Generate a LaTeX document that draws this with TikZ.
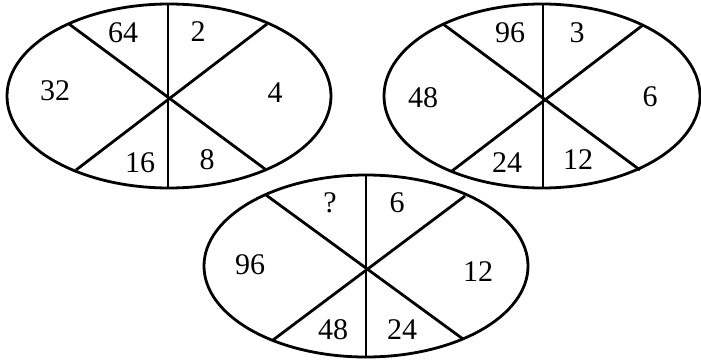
\documentclass[tikz,border=0pt]{standalone}
\usepackage{fontspec}
\setmainfont{Liberation Serif}
\begin{document}
\begin{tikzpicture}[x=1pt,y=-1pt,line width=2.8pt,every node/.style={font=\fontsize{30}{30}\selectfont,inner sep=0pt}]
\useasboundingbox (0,0) rectangle (701,361);
% left ellipse
\draw (169,96) ellipse [x radius=162,y radius=92];\draw (168,4)--(168,188);\draw (69,24)--(265,169);\draw (267,24)--(76,170);
\node (la) at (123,33){64};\node (lb) at (198,32){2};\node (lc) at (55,91){32};\node (ld) at (275,93){4};\node (le) at (140,163){16};\node (lf) at (207,160){8};
% right ellipse
\draw (542,96) ellipse [x radius=158,y radius=92];\draw (543,4)--(543,188);\draw (443,24)--(640,170);\draw (643,25)--(452,171);
\node (ra) at (510,33){96};\node (rb) at (577,33){3};\node (rc) at (423,98){48};\node (rd) at (650,97){6};\node (re) at (507,163){24};\node (rf) at (578,160){12};
% bottom ellipse
\draw (366,266) ellipse [x radius=162,y radius=91];\draw (366,175)--(366,357);\draw (266,195)--(463,339);\draw (465,196)--(273,340);
\node (ba) at (330,203){?};\node (bb) at (397,203){6};\node (bc) at (250,265){96};\node (bd) at (478,272){12};\node (be) at (333,330){48};\node (bf) at (402,330){24};
\end{tikzpicture}
\end{document}
